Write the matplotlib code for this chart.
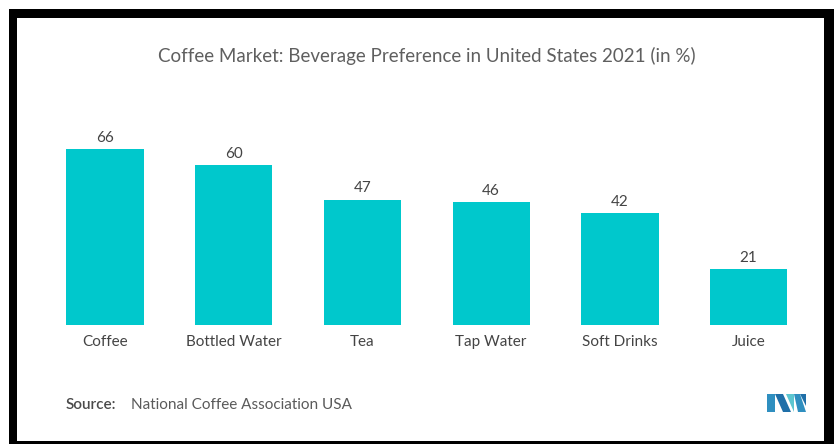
import matplotlib.pyplot as plt
from matplotlib.patches import Rectangle, Polygon

categories = ["Coffee", "Bottled Water", "Tea", "Tap Water", "Soft Drinks", "Juice"]
shares = [66, 60, 47, 46, 42, 21]

plt.rcParams["font.family"] = ["Lato", "DejaVu Sans"]
W, H = 834, 444
fig = plt.figure(figsize=(W / 100, H / 100), dpi=100)
fig.patch.set_facecolor("white")


def px(x, y, w, h):
    # pixel box (from top-left) -> figure fraction
    return (x / W, 1 - (y + h) / H, w / W, h / H)


# black frame round the picture
for x, y, w, h in [(9, 9, W - 9, 9), (9, 9, 8, H - 9), (824, 9, 10, H - 9), (9, 441, W - 9, 3)]:
    l, b, ww, hh = px(x, y, w, h)
    fig.patches.append(Rectangle((l, b), ww, hh, transform=fig.transFigure,
                                 facecolor="black", edgecolor="none"))

ax = fig.add_axes(px(40.5, 125, 772.5, 200))
ax.bar(range(len(categories)), shares, width=0.6, color="#00C8CC")
ax.set_xlim(-0.5, len(categories) - 0.5)
ax.set_ylim(0, 75)
for i, v in enumerate(shares):
    ax.text(i, v + 1.6, str(v), ha="center", va="bottom", fontsize=11, color="#444444")
ax.set_xticks(range(len(categories)))
ax.set_xticklabels(categories, fontsize=11, color="#444444")
ax.tick_params(axis="x", length=0, pad=7)
ax.set_yticks([])
for s in ax.spines.values():
    s.set_visible(False)

fig.text(427 / W, 1 - 56 / H, "Coffee Market: Beverage Preference in United States 2021 (in %)",
         ha="center", va="center", fontsize=13.5, color="#5f5f5f")
fig.text(66 / W, 1 - 405 / H, "Source:", ha="left", va="center", fontsize=11,
         color="#4a4a4a", fontweight="semibold")
fig.text(131 / W, 1 - 405 / H, "National Coffee Association USA", ha="left", va="center",
         fontsize=11, color="#5a5a5a")

# small logo bottom right
def poly(pts, color):
    fig.patches.append(Polygon([(x / W, 1 - y / H) for x, y in pts], closed=True,
                               transform=fig.transFigure, facecolor=color, edgecolor="none"))


poly([(767, 394), (775, 394), (775, 412), (767, 412)], "#2f8fc0")
poly([(775, 394), (783, 394), (791, 412), (783, 412)], "#1f6fa8")
poly([(786, 394), (794, 394), (794, 412)], "#5cc6d0")
poly([(794, 394), (800, 394), (806, 412), (798, 412)], "#2f8fc0")
poly([(800, 394), (806, 394), (806, 406)], "#1f6fa8")

fig.savefig("out.png", dpi=100)
